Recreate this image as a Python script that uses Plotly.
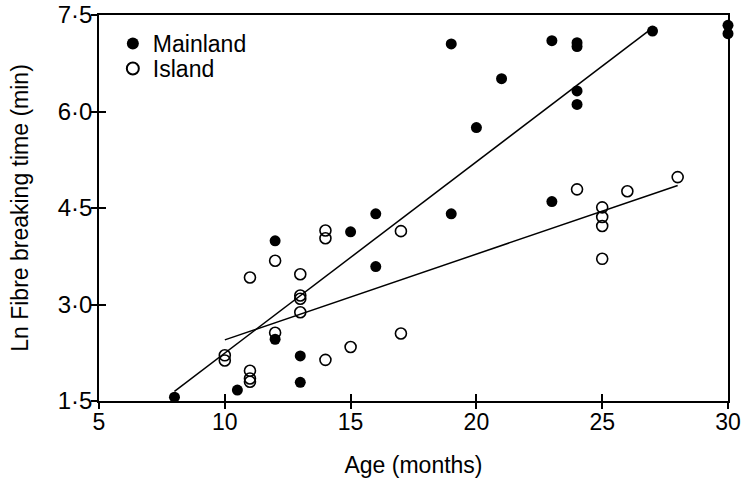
import plotly.graph_objects as go

# Mainland (filled circles)
mainland_age = [8, 10.5, 13, 13, 12, 12, 15, 16, 16, 19, 23, 19, 20, 21, 23, 24, 24, 24, 24, 27, 30, 30]
mainland_ln = [1.56, 1.67, 1.79, 2.2, 2.46, 3.99, 4.13, 4.41, 3.59, 4.41, 4.6, 7.05, 5.75, 6.51, 7.1, 7.07, 7.01, 6.32, 6.11, 7.25, 7.34, 7.21]

# Island (open circles)
island_age = [10, 10, 11, 11, 11, 11, 12, 12, 13, 13, 13, 13, 14, 14, 14, 15, 17, 17, 24, 25, 25, 25, 25, 26, 28]
island_ln = [2.21, 2.13, 1.97, 1.85, 1.8, 3.42, 3.68, 2.56, 3.47, 3.14, 3.09, 2.88, 4.15, 4.03, 2.14, 2.34, 4.14, 2.55, 4.79, 4.51, 4.36, 4.22, 3.71, 4.76, 4.98]

# Fitted regression lines (end points)
mainland_fit_age = [8, 27]
mainland_fit_ln = [1.65, 7.3]
island_fit_age = [10, 28]
island_fit_ln = [2.45, 4.85]

x_ticks = [5, 10, 15, 20, 25, 30]
y_ticks = [1.5, 3.0, 4.5, 6.0, 7.5]
y_tick_text = ["1·5", "3·0", "4·5", "6·0", "7·5"]

FONT = "Liberation Sans, Arial, Helvetica, sans-serif"

fig = go.Figure()

fig.add_trace(go.Scatter(
    x=mainland_fit_age, y=mainland_fit_ln, mode="lines",
    line=dict(color="black", width=1.5), showlegend=False,
    xaxis="x2", yaxis="y2", hoverinfo="skip"))
fig.add_trace(go.Scatter(
    x=island_fit_age, y=island_fit_ln, mode="lines",
    line=dict(color="black", width=1.5), showlegend=False,
    xaxis="x2", yaxis="y2", hoverinfo="skip"))

fig.add_trace(go.Scatter(
    x=mainland_age, y=mainland_ln, mode="markers", name="Mainland",
    marker=dict(symbol="circle", size=11, color="black"),
    cliponaxis=False, legend="legend"))
fig.add_trace(go.Scatter(
    x=island_age, y=island_ln, mode="markers", name="Island",
    marker=dict(symbol="circle-open", size=11, color="black", line=dict(width=1.6, color="black")),
    cliponaxis=False, legend="legend2"))

axis_common = dict(showgrid=False, zeroline=False, automargin=False)
legend_common = dict(xanchor="left", yanchor="top", bgcolor="rgba(0,0,0,0)",
                     font=dict(size=23, family=FONT), itemsizing="constant")

fig.update_layout(
    width=742, height=479,
    margin=dict(l=99, r=14, t=15, b=78),
    paper_bgcolor="white", plot_bgcolor="white",
    font=dict(family=FONT, size=23, color="black"),
    showlegend=True,
    legend=dict(x=0.022, y=0.982, **legend_common),
    legend2=dict(x=0.022, y=0.917, **legend_common),
    xaxis=dict(range=[5, 30], tickvals=x_ticks, ticks="inside", ticklen=7, tickwidth=1.5,
               tickcolor="black", showline=True, linecolor="black", linewidth=1.5, mirror=True,
               title=dict(text="Age (months)", font=dict(size=23), standoff=23),
               tickfont=dict(size=23), ticklabeloverflow="allow", **axis_common),
    yaxis=dict(range=[1.5, 7.5], tickvals=y_ticks, ticktext=y_tick_text, ticks="inside", ticklen=7,
               tickwidth=1.5, tickcolor="black", showline=True, linecolor="black", linewidth=1.5,
               mirror=True, title=dict(text="Ln Fibre breaking time (min)", font=dict(size=23), standoff=23),
               tickfont=dict(size=24), ticklabelstandoff=0, ticklabeloverflow="allow", **axis_common),
    xaxis2=dict(range=[5, 30], tickvals=x_ticks, ticks="outside", ticklen=7, tickwidth=1.5,
                tickcolor="black", showticklabels=False, showline=False, overlaying="x",
                anchor="y2", side="bottom", **axis_common),
    yaxis2=dict(range=[1.5, 7.5], tickvals=y_ticks, ticks="outside", ticklen=7, tickwidth=1.5,
                tickcolor="black", showticklabels=False, showline=False, overlaying="y",
                anchor="x2", side="left", **axis_common),
)

fig.write_html("out.html", config={"displayModeBar": False},
               post_script="document.body.style.margin='0px';")
